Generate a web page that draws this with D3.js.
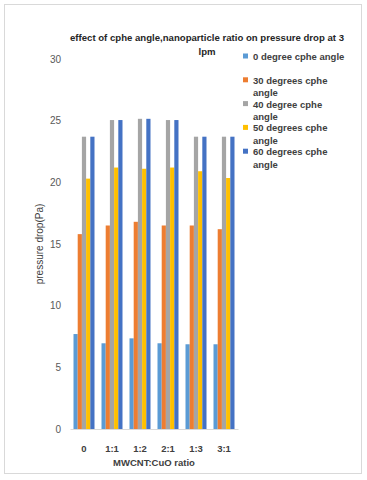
<!DOCTYPE html>
<html>
  <head>
    <meta charset="utf-8" />
    <title>Pressure drop</title>
    <script src="https://d3js.org/d3.v7.min.js"></script>
    <style>
        body{
            margin: 0;
            background: #fff;
        }
        text{
            font-family: "Liberation Sans", Arial, sans-serif;
        }
    </style>
  </head>
  <body>
    <svg id="vis"></svg>

    <script>
        var width = 367;
        var height = 480;

        // data
        var ratios = ["0", "1:1", "1:2", "2:1", "1:3", "3:1"];
        // legend names, split where the original wraps them
        var seriesNames = [["0 degree cphe angle"], ["30 degrees cphe", "angle"], ["40 degree cphe", "angle"],
                           ["50 degrees cphe", "angle"], ["60 degrees cphe", "angle"]];
        var deg0  = [7.7, 6.95, 7.35, 6.95, 6.87, 6.87];
        var deg30 = [15.8, 16.5, 16.8, 16.5, 16.5, 16.2];
        var deg40 = [23.7, 25.05, 25.15, 25.05, 23.7, 23.7];
        var deg50 = [20.3, 21.2, 21.1, 21.2, 20.9, 20.35];
        var deg60 = [23.7, 25.05, 25.15, 25.05, 23.7, 23.7];
        var yTicks = [0, 5, 10, 15, 20, 25, 30];
        var colors = ["#5b9bd5", "#ed7d31", "#a5a5a5", "#ffc000", "#4472c4"];

        var allSeries = [deg0, deg30, deg40, deg50, deg60];

        var svg = d3.select("#vis").attr("width", width).attr("height", height);

        // chart frame
        svg.append("rect")
            .attr("x", 4.5).attr("y", 4.5)
            .attr("width", 357).attr("height", 469)
            .attr("fill", "#fff")
            .attr("stroke", "#d9d9d9");

        var x0 = d3.scaleBand().domain(ratios).range([70, 238]).paddingInner(0.25).paddingOuter(0.125);
        var x1 = d3.scaleBand().domain(d3.range(seriesNames.length)).range([0, x0.bandwidth()]);
        var y = d3.scaleLinear().domain([0, 30]).range([429, 59]);

        // title
        var title = svg.append("text")
            .attr("text-anchor", "middle")
            .attr("font-size", 9.6)
            .attr("font-weight", "bold")
            .attr("fill", "#262626");
        title.append("tspan").attr("x", 207).attr("y", 41)
            .text("effect of cphe angle,nanoparticle ratio on pressure drop at 3");
        title.append("tspan").attr("x", 207).attr("y", 55).text("lpm");

        // y axis labels
        var yAxis = svg.append("g")
            .attr("transform", "translate(61,0)")
            .call(d3.axisLeft(y).tickValues(yTicks).tickSize(0).tickPadding(0));
        yAxis.select(".domain").remove();
        yAxis.selectAll("text")
            .attr("font-size", 10)
            .attr("font-family", "Liberation Sans, Arial, sans-serif")
            .attr("fill", "#595959");

        // bars
        var groups = svg.append("g").selectAll("g")
            .data(ratios)
            .enter().append("g")
            .attr("transform", function(d) { return "translate(" + x0(d) + ",0)"; });

        groups.selectAll("rect")
            .data(function(d, i) {
                return allSeries.map(function(s, k) { return {k: k, v: s[i]}; });
            })
            .enter().append("rect")
            .attr("x", function(d) { return x1(d.k); })
            .attr("width", x1.bandwidth())
            .attr("y", function(d) { return y(d.v); })
            .attr("height", function(d) { return y(0) - y(d.v); })
            .attr("fill", function(d) { return colors[d.k]; });

        // x axis
        var xAxis = svg.append("g")
            .attr("transform", "translate(0," + y(0) + ")")
            .call(d3.axisBottom(x0).tickSize(0).tickPadding(16));
        xAxis.select(".domain").attr("stroke", "#d9d9d9");
        xAxis.selectAll("text")
            .attr("font-size", 9.5)
            .attr("font-weight", "bold")
            .attr("font-family", "Liberation Sans, Arial, sans-serif")
            .attr("fill", "#404040");

        // axis titles
        svg.append("text")
            .attr("x", 154).attr("y", 466)
            .attr("text-anchor", "middle")
            .attr("font-size", 9.5)
            .attr("font-weight", "bold")
            .attr("fill", "#404040")
            .text("MWCNT:CuO ratio");

        svg.append("text")
            .attr("transform", "translate(43,244) rotate(-90)")
            .attr("text-anchor", "middle")
            .attr("font-size", 10)
            .attr("fill", "#404040")
            .text("pressure drop(Pa)");

        // legend
        var legend = svg.append("g").selectAll("g")
            .data(seriesNames)
            .enter().append("g")
            .attr("transform", function(d, i) { return "translate(243," + (56.5 + i * 23.8) + ")"; });

        legend.append("rect")
            .attr("x", 0).attr("y", -3)
            .attr("width", 5).attr("height", 5)
            .attr("fill", function(d, i) { return colors[i]; });

        legend.append("text")
            .attr("font-size", 9.5)
            .attr("font-weight", "bold")
            .attr("fill", "#404040")
            .selectAll("tspan")
            .data(function(d) { return d; })
            .enter().append("tspan")
            .attr("x", 10)
            .attr("y", function(d, j) { return 3.5 + j * 12.7; })
            .text(function(d) { return d; });
    </script>
  </body>
</html>
